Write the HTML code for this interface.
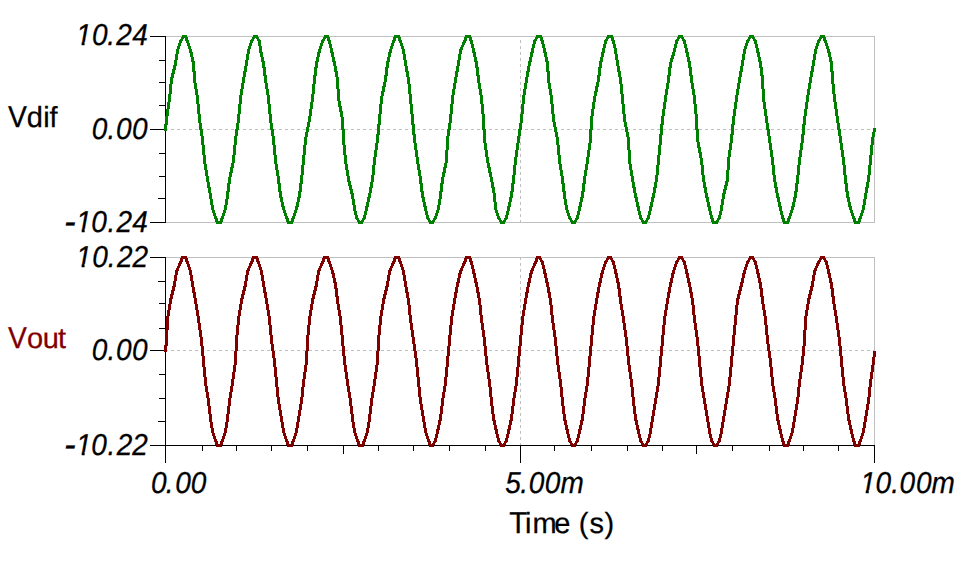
<!DOCTYPE html>
<html><head><meta charset="utf-8"><style>
html,body{margin:0;padding:0;background:#fff;width:961px;height:563px;overflow:hidden}
svg{display:block}
text{font-family:"Liberation Sans",sans-serif;text-rendering:geometricPrecision}
</style></head><body>
<svg width="961" height="563" viewBox="0 0 961 563">
<defs>
<clipPath id="nf0" clipPathUnits="userSpaceOnUse"><rect x="0" y="-100" width="961" height="97.23"/><rect x="0" y="1" width="961" height="50"/><rect x="0" y="-2.77" width="75.00" height="3.77"/><rect x="81.58" y="-2.77" width="2.98" height="3.77"/><rect x="90.00" y="-2.77" width="871.00" height="3.77"/></clipPath>
<clipPath id="nf2" clipPathUnits="userSpaceOnUse"><rect x="0" y="-100" width="961" height="97.23"/><rect x="0" y="1" width="961" height="50"/><rect x="0" y="-2.77" width="75.10" height="3.77"/><rect x="81.68" y="-2.77" width="2.98" height="3.77"/><rect x="90.10" y="-2.77" width="870.90" height="3.77"/></clipPath>
<clipPath id="nf3" clipPathUnits="userSpaceOnUse"><rect x="0" y="-100" width="961" height="97.23"/><rect x="0" y="1" width="961" height="50"/><rect x="0" y="-2.77" width="75.00" height="3.77"/><rect x="81.58" y="-2.77" width="2.98" height="3.77"/><rect x="90.00" y="-2.77" width="871.00" height="3.77"/></clipPath>
<clipPath id="nf5" clipPathUnits="userSpaceOnUse"><rect x="0" y="-100" width="961" height="97.23"/><rect x="0" y="1" width="961" height="50"/><rect x="0" y="-2.77" width="75.10" height="3.77"/><rect x="81.68" y="-2.77" width="2.98" height="3.77"/><rect x="90.10" y="-2.77" width="870.90" height="3.77"/></clipPath>
<clipPath id="nf10" clipPathUnits="userSpaceOnUse"><rect x="0" y="-100" width="961" height="97.23"/><rect x="0" y="1" width="961" height="50"/><rect x="0" y="-2.77" width="859.15" height="3.77"/><rect x="865.73" y="-2.77" width="2.98" height="3.77"/><rect x="874.15" y="-2.77" width="86.85" height="3.77"/></clipPath>
</defs>
<rect width="961" height="563" fill="#fff"/>
<g shape-rendering="crispEdges" stroke-width="1">
<line x1="165" y1="36.5" x2="875" y2="36.5" stroke="#c0c0c0" />
<line x1="874.5" y1="36" x2="874.5" y2="223" stroke="#c0c0c0" />
<line x1="165" y1="222.5" x2="875" y2="222.5" stroke="#c0c0c0" />
<line x1="165" y1="129.5" x2="874" y2="129.5" stroke="#c0c0c0" stroke-dasharray="3 3"/>
<line x1="520.5" y1="40" x2="520.5" y2="222" stroke="#c0c0c0" stroke-dasharray="3 3"/>
<line x1="165" y1="257.5" x2="875" y2="257.5" stroke="#c0c0c0" />
<line x1="874.5" y1="257" x2="874.5" y2="446" stroke="#c0c0c0" />
<line x1="165" y1="350.5" x2="874" y2="350.5" stroke="#c0c0c0" stroke-dasharray="3 3"/>
<line x1="520.5" y1="257" x2="520.5" y2="445" stroke="#c0c0c0" stroke-dasharray="3 3"/>
<line x1="165.5" y1="36" x2="165.5" y2="223" stroke="#000" />
<line x1="165.5" y1="257" x2="165.5" y2="463" stroke="#000" />
<line x1="150" y1="445.5" x2="875" y2="445.5" stroke="#000" />
<line x1="150" y1="36.5" x2="166" y2="36.5" stroke="#000" />
<line x1="150" y1="129.5" x2="166" y2="129.5" stroke="#000" />
<line x1="150" y1="222.5" x2="166" y2="222.5" stroke="#000" />
<line x1="159" y1="60.5" x2="166" y2="60.5" stroke="#000" />
<line x1="159" y1="82.5" x2="166" y2="82.5" stroke="#000" />
<line x1="159" y1="105.5" x2="166" y2="105.5" stroke="#000" />
<line x1="159" y1="153.5" x2="166" y2="153.5" stroke="#000" />
<line x1="159" y1="176.5" x2="166" y2="176.5" stroke="#000" />
<line x1="158" y1="198.5" x2="166" y2="198.5" stroke="#000" />
<line x1="150" y1="257.5" x2="166" y2="257.5" stroke="#000" />
<line x1="150" y1="350.5" x2="166" y2="350.5" stroke="#000" />
<line x1="158" y1="281.5" x2="166" y2="281.5" stroke="#000" />
<line x1="159" y1="303.5" x2="166" y2="303.5" stroke="#000" />
<line x1="159" y1="328.5" x2="166" y2="328.5" stroke="#000" />
<line x1="159" y1="374.5" x2="166" y2="374.5" stroke="#000" />
<line x1="159" y1="398.5" x2="166" y2="398.5" stroke="#000" />
<line x1="158" y1="421.5" x2="166" y2="421.5" stroke="#000" />
<line x1="165.5" y1="445" x2="165.5" y2="463" stroke="#000" />
<line x1="202.5" y1="445" x2="202.5" y2="451" stroke="#000" />
<line x1="236.5" y1="445" x2="236.5" y2="451" stroke="#000" />
<line x1="271.5" y1="445" x2="271.5" y2="451" stroke="#000" />
<line x1="307.5" y1="445" x2="307.5" y2="451" stroke="#000" />
<line x1="343.5" y1="445" x2="343.5" y2="454" stroke="#000" />
<line x1="378.5" y1="445" x2="378.5" y2="451" stroke="#000" />
<line x1="413.5" y1="445" x2="413.5" y2="451" stroke="#000" />
<line x1="449.5" y1="445" x2="449.5" y2="451" stroke="#000" />
<line x1="485.5" y1="445" x2="485.5" y2="451" stroke="#000" />
<line x1="520.5" y1="445" x2="520.5" y2="463" stroke="#000" />
<line x1="554.5" y1="445" x2="554.5" y2="451" stroke="#000" />
<line x1="591.5" y1="445" x2="591.5" y2="451" stroke="#000" />
<line x1="627.5" y1="445" x2="627.5" y2="451" stroke="#000" />
<line x1="662.5" y1="445" x2="662.5" y2="451" stroke="#000" />
<line x1="696.5" y1="445" x2="696.5" y2="454" stroke="#000" />
<line x1="732.5" y1="445" x2="732.5" y2="451" stroke="#000" />
<line x1="769.5" y1="445" x2="769.5" y2="451" stroke="#000" />
<line x1="803.5" y1="445" x2="803.5" y2="451" stroke="#000" />
<line x1="838.5" y1="445" x2="838.5" y2="451" stroke="#000" />
<line x1="874.5" y1="445" x2="874.5" y2="463" stroke="#000" />
</g>
<path d="M164 124h1v7h-1zM165 116h1v15h-1zM166 109h1v22h-1zM167 102h1v23h-1zM168 94h1v22h-1zM169 84h1v25h-1zM170 77h1v25h-1zM171 73h1v21h-1zM172 69h1v15h-1zM173 65h1v13h-1zM174 60h1v14h-1zM175 54h1v16h-1zM176 49h1v17h-1zM177 46h1v14h-1zM178 43h1v11h-1zM179 40h1v9h-1zM180 39h1v7h-1zM181 37h1v6h-1zM182 35h1v6h-1zM183 35h1v4h-1zM184 35h1v3h-1zM185 35h1v6h-1zM186 35h1v8h-1zM187 37h1v9h-1zM188 40h1v9h-1zM189 43h1v10h-1zM190 46h1v11h-1zM191 49h1v13h-1zM192 52h1v20h-1zM193 57h1v26h-1zM194 61h1v28h-1zM195 71h1v24h-1zM196 83h1v21h-1zM197 89h1v25h-1zM198 95h1v28h-1zM199 104h1v26h-1zM200 114h1v22h-1zM201 123h1v22h-1zM202 129h1v26h-1zM203 136h1v28h-1zM204 145h1v25h-1zM205 155h1v21h-1zM206 164h1v18h-1zM207 170h1v18h-1zM208 176h1v17h-1zM209 182h1v17h-1zM210 187h1v18h-1zM211 193h1v17h-1zM212 199h1v14h-1zM213 205h1v11h-1zM214 210h1v9h-1zM215 213h1v9h-1zM216 216h1v8h-1zM217 218h1v6h-1zM218 221h1v3h-1zM219 221h1v3h-1zM220 218h1v6h-1zM221 216h1v8h-1zM222 213h1v9h-1zM223 210h1v9h-1zM224 205h1v11h-1zM225 199h1v14h-1zM226 191h1v19h-1zM227 183h1v22h-1zM228 177h1v22h-1zM229 172h1v20h-1zM230 167h1v17h-1zM231 163h1v14h-1zM232 155h1v18h-1zM233 145h1v23h-1zM234 136h1v27h-1zM235 129h1v26h-1zM236 123h1v22h-1zM237 114h1v22h-1zM238 104h1v26h-1zM239 95h1v28h-1zM240 89h1v25h-1zM241 83h1v21h-1zM242 77h1v18h-1zM243 71h1v18h-1zM244 66h1v17h-1zM245 60h1v17h-1zM246 54h1v18h-1zM247 49h1v17h-1zM248 46h1v14h-1zM249 43h1v11h-1zM250 40h1v9h-1zM251 39h1v7h-1zM252 37h1v6h-1zM253 35h1v6h-1zM254 35h1v4h-1zM255 35h1v3h-1zM256 35h1v4h-1zM257 35h1v6h-1zM258 37h1v9h-1zM259 39h1v14h-1zM260 40h1v17h-1zM261 46h1v16h-1zM262 52h1v16h-1zM263 57h1v19h-1zM264 61h1v22h-1zM265 67h1v22h-1zM266 75h1v20h-1zM267 83h1v21h-1zM268 89h1v25h-1zM269 95h1v28h-1zM270 104h1v26h-1zM271 114h1v22h-1zM272 123h1v22h-1zM273 129h1v26h-1zM274 136h1v28h-1zM275 145h1v25h-1zM276 155h1v21h-1zM277 164h1v20h-1zM278 170h1v22h-1zM279 176h1v22h-1zM280 183h1v19h-1zM281 191h1v16h-1zM282 197h1v13h-1zM283 202h1v11h-1zM284 206h1v10h-1zM285 210h1v9h-1zM286 213h1v9h-1zM287 216h1v8h-1zM288 218h1v6h-1zM289 221h1v3h-1zM290 221h1v3h-1zM291 218h1v6h-1zM292 216h1v8h-1zM293 213h1v9h-1zM294 210h1v9h-1zM295 206h1v10h-1zM296 202h1v11h-1zM297 197h1v13h-1zM298 191h1v16h-1zM299 183h1v19h-1zM300 175h1v23h-1zM301 165h1v27h-1zM302 155h1v29h-1zM303 145h1v30h-1zM304 137h1v28h-1zM305 132h1v23h-1zM306 127h1v18h-1zM307 122h1v15h-1zM308 116h1v16h-1zM309 109h1v18h-1zM310 102h1v20h-1zM311 94h1v22h-1zM312 84h1v25h-1zM313 75h1v27h-1zM314 67h1v27h-1zM315 61h1v23h-1zM316 57h1v19h-1zM317 52h1v16h-1zM318 49h1v13h-1zM319 46h1v11h-1zM320 43h1v10h-1zM321 40h1v9h-1zM322 39h1v7h-1zM323 37h1v6h-1zM324 35h1v6h-1zM325 35h1v4h-1zM326 35h1v3h-1zM327 35h1v6h-1zM328 35h1v9h-1zM329 37h1v11h-1zM330 40h1v13h-1zM331 44h1v13h-1zM332 48h1v14h-1zM333 52h1v14h-1zM334 57h1v15h-1zM335 61h1v16h-1zM336 66h1v23h-1zM337 71h1v30h-1zM338 77h1v30h-1zM339 89h1v23h-1zM340 101h1v16h-1zM341 106h1v24h-1zM342 111h1v34h-1zM343 117h1v38h-1zM344 129h1v35h-1zM345 145h1v25h-1zM346 155h1v21h-1zM347 164h1v18h-1zM348 170h1v16h-1zM349 176h1v14h-1zM350 181h1v13h-1zM351 185h1v14h-1zM352 189h1v16h-1zM353 193h1v18h-1zM354 199h1v16h-1zM355 205h1v14h-1zM356 211h1v9h-1zM357 215h1v7h-1zM358 218h1v6h-1zM359 220h1v4h-1zM360 221h1v3h-1zM361 220h1v4h-1zM362 218h1v6h-1zM363 215h1v7h-1zM364 211h1v9h-1zM365 206h1v13h-1zM366 202h1v13h-1zM367 197h1v14h-1zM368 193h1v14h-1zM369 187h1v15h-1zM370 182h1v16h-1zM371 175h1v18h-1zM372 165h1v23h-1zM373 157h1v25h-1zM374 150h1v25h-1zM375 143h1v22h-1zM376 134h1v23h-1zM377 124h1v26h-1zM378 114h1v29h-1zM379 104h1v31h-1zM380 96h1v29h-1zM381 91h1v23h-1zM382 86h1v18h-1zM383 82h1v14h-1zM384 75h1v17h-1zM385 67h1v20h-1zM386 61h1v21h-1zM387 57h1v19h-1zM388 52h1v16h-1zM389 49h1v13h-1zM390 46h1v11h-1zM391 43h1v10h-1zM392 40h1v9h-1zM393 37h1v9h-1zM394 35h1v8h-1zM395 35h1v6h-1zM396 35h1v3h-1zM397 35h1v3h-1zM398 35h1v6h-1zM399 35h1v8h-1zM400 37h1v9h-1zM401 40h1v9h-1zM402 43h1v11h-1zM403 46h1v14h-1zM404 49h1v17h-1zM405 54h1v18h-1zM406 60h1v17h-1zM407 66h1v18h-1zM408 71h1v23h-1zM409 77h1v27h-1zM410 84h1v30h-1zM411 94h1v31h-1zM412 104h1v31h-1zM413 114h1v29h-1zM414 124h1v26h-1zM415 134h1v23h-1zM416 143h1v21h-1zM417 150h1v20h-1zM418 157h1v19h-1zM419 164h1v20h-1zM420 170h1v22h-1zM421 176h1v22h-1zM422 183h1v19h-1zM423 191h1v16h-1zM424 197h1v14h-1zM425 202h1v13h-1zM426 206h1v13h-1zM427 211h1v9h-1zM428 215h1v7h-1zM429 218h1v6h-1zM430 220h1v4h-1zM431 221h1v3h-1zM432 220h1v4h-1zM433 218h1v6h-1zM434 216h1v6h-1zM435 213h1v7h-1zM436 210h1v9h-1zM437 205h1v11h-1zM438 199h1v14h-1zM439 191h1v19h-1zM440 183h1v22h-1zM441 177h1v22h-1zM442 172h1v20h-1zM443 167h1v17h-1zM444 163h1v14h-1zM445 150h1v23h-1zM446 136h1v32h-1zM447 129h1v34h-1zM448 123h1v27h-1zM449 114h1v22h-1zM450 104h1v26h-1zM451 95h1v28h-1zM452 89h1v25h-1zM453 83h1v21h-1zM454 77h1v18h-1zM455 71h1v18h-1zM456 66h1v17h-1zM457 60h1v17h-1zM458 54h1v18h-1zM459 49h1v17h-1zM460 47h1v13h-1zM461 45h1v9h-1zM462 42h1v8h-1zM463 40h1v7h-1zM464 37h1v8h-1zM465 35h1v8h-1zM466 35h1v6h-1zM467 35h1v3h-1zM468 35h1v3h-1zM469 35h1v6h-1zM470 35h1v9h-1zM471 37h1v11h-1zM472 40h1v13h-1zM473 44h1v13h-1zM474 48h1v14h-1zM475 52h1v16h-1zM476 57h1v19h-1zM477 61h1v22h-1zM478 67h1v22h-1zM479 75h1v20h-1zM480 83h1v21h-1zM481 89h1v25h-1zM482 95h1v35h-1zM483 104h1v39h-1zM484 114h1v36h-1zM485 129h1v28h-1zM486 143h1v20h-1zM487 150h1v18h-1zM488 157h1v16h-1zM489 163h1v14h-1zM490 167h1v15h-1zM491 172h1v16h-1zM492 177h1v16h-1zM493 182h1v20h-1zM494 187h1v23h-1zM495 193h1v20h-1zM496 202h1v14h-1zM497 210h1v9h-1zM498 213h1v7h-1zM499 216h1v6h-1zM500 218h1v6h-1zM501 220h1v4h-1zM502 221h1v3h-1zM503 220h1v4h-1zM504 218h1v6h-1zM505 215h1v7h-1zM506 211h1v9h-1zM507 206h1v13h-1zM508 202h1v13h-1zM509 197h1v14h-1zM510 191h1v16h-1zM511 183h1v19h-1zM512 175h1v23h-1zM513 165h1v27h-1zM514 157h1v27h-1zM515 150h1v25h-1zM516 143h1v22h-1zM517 136h1v21h-1zM518 129h1v21h-1zM519 123h1v20h-1zM520 114h1v22h-1zM521 104h1v26h-1zM522 95h1v28h-1zM523 89h1v25h-1zM524 83h1v21h-1zM525 77h1v18h-1zM526 71h1v18h-1zM527 66h1v17h-1zM528 61h1v16h-1zM529 57h1v15h-1zM530 52h1v14h-1zM531 48h1v14h-1zM532 44h1v13h-1zM533 40h1v13h-1zM534 39h1v9h-1zM535 37h1v7h-1zM536 35h1v6h-1zM537 35h1v4h-1zM538 35h1v3h-1zM539 35h1v3h-1zM540 35h1v6h-1zM541 35h1v9h-1zM542 37h1v11h-1zM543 40h1v13h-1zM544 44h1v13h-1zM545 48h1v14h-1zM546 52h1v20h-1zM547 57h1v26h-1zM548 61h1v28h-1zM549 71h1v24h-1zM550 83h1v21h-1zM551 89h1v25h-1zM552 95h1v27h-1zM553 104h1v23h-1zM554 114h1v18h-1zM555 122h1v15h-1zM556 127h1v18h-1zM557 132h1v23h-1zM558 137h1v27h-1zM559 145h1v25h-1zM560 155h1v21h-1zM561 164h1v20h-1zM562 170h1v22h-1zM563 176h1v23h-1zM564 183h1v22h-1zM565 191h1v19h-1zM566 199h1v14h-1zM567 205h1v11h-1zM568 210h1v9h-1zM569 213h1v7h-1zM570 216h1v6h-1zM571 218h1v6h-1zM572 220h1v4h-1zM573 221h1v3h-1zM574 220h1v4h-1zM575 218h1v6h-1zM576 215h1v7h-1zM577 211h1v9h-1zM578 206h1v13h-1zM579 202h1v13h-1zM580 197h1v14h-1zM581 191h1v16h-1zM582 183h1v19h-1zM583 176h1v22h-1zM584 170h1v22h-1zM585 164h1v20h-1zM586 157h1v19h-1zM587 150h1v20h-1zM588 143h1v21h-1zM589 129h1v28h-1zM590 116h1v34h-1zM591 109h1v34h-1zM592 102h1v28h-1zM593 96h1v20h-1zM594 91h1v18h-1zM595 86h1v16h-1zM596 82h1v14h-1zM597 75h1v17h-1zM598 67h1v20h-1zM599 61h1v21h-1zM600 57h1v19h-1zM601 52h1v16h-1zM602 48h1v14h-1zM603 44h1v13h-1zM604 40h1v13h-1zM605 39h1v9h-1zM606 37h1v7h-1zM607 35h1v6h-1zM608 35h1v4h-1zM609 35h1v3h-1zM610 35h1v3h-1zM611 35h1v6h-1zM612 35h1v9h-1zM613 37h1v11h-1zM614 40h1v14h-1zM615 44h1v16h-1zM616 48h1v18h-1zM617 54h1v18h-1zM618 60h1v17h-1zM619 66h1v18h-1zM620 71h1v23h-1zM621 77h1v27h-1zM622 84h1v30h-1zM623 94h1v28h-1zM624 104h1v23h-1zM625 114h1v18h-1zM626 122h1v15h-1zM627 127h1v23h-1zM628 132h1v32h-1zM629 137h1v33h-1zM630 150h1v26h-1zM631 164h1v18h-1zM632 170h1v18h-1zM633 176h1v17h-1zM634 182h1v16h-1zM635 187h1v15h-1zM636 193h1v14h-1zM637 197h1v14h-1zM638 202h1v13h-1zM639 206h1v13h-1zM640 211h1v9h-1zM641 215h1v7h-1zM642 218h1v6h-1zM643 220h1v4h-1zM644 221h1v3h-1zM645 220h1v4h-1zM646 218h1v6h-1zM647 215h1v7h-1zM648 211h1v9h-1zM649 206h1v13h-1zM650 202h1v13h-1zM651 197h1v14h-1zM652 193h1v14h-1zM653 187h1v15h-1zM654 182h1v16h-1zM655 175h1v18h-1zM656 165h1v23h-1zM657 155h1v27h-1zM658 145h1v30h-1zM659 134h1v31h-1zM660 124h1v31h-1zM661 116h1v29h-1zM662 109h1v26h-1zM663 102h1v23h-1zM664 95h1v21h-1zM665 89h1v20h-1zM666 83h1v19h-1zM667 75h1v20h-1zM668 67h1v22h-1zM669 62h1v21h-1zM670 58h1v18h-1zM671 55h1v13h-1zM672 52h1v10h-1zM673 48h1v11h-1zM674 44h1v12h-1zM675 40h1v12h-1zM676 39h1v9h-1zM677 37h1v7h-1zM678 35h1v6h-1zM679 35h1v4h-1zM680 35h1v3h-1zM681 35h1v4h-1zM682 35h1v6h-1zM683 37h1v7h-1zM684 39h1v9h-1zM685 40h1v13h-1zM686 44h1v13h-1zM687 48h1v14h-1zM688 52h1v16h-1zM689 57h1v19h-1zM690 61h1v22h-1zM691 67h1v22h-1zM692 75h1v20h-1zM693 83h1v21h-1zM694 89h1v25h-1zM695 95h1v35h-1zM696 104h1v38h-1zM697 114h1v34h-1zM698 129h1v24h-1zM699 142h1v16h-1zM700 147h1v18h-1zM701 152h1v23h-1zM702 158h1v24h-1zM703 165h1v23h-1zM704 175h1v18h-1zM705 182h1v16h-1zM706 187h1v15h-1zM707 193h1v14h-1zM708 197h1v14h-1zM709 202h1v13h-1zM710 206h1v13h-1zM711 211h1v11h-1zM712 215h1v9h-1zM713 218h1v6h-1zM714 221h1v3h-1zM715 221h1v3h-1zM716 220h1v4h-1zM717 218h1v6h-1zM718 215h1v7h-1zM719 211h1v9h-1zM720 205h1v14h-1zM721 199h1v16h-1zM722 193h1v18h-1zM723 189h1v16h-1zM724 185h1v14h-1zM725 181h1v13h-1zM726 170h1v20h-1zM727 157h1v29h-1zM728 150h1v32h-1zM729 143h1v27h-1zM730 134h1v23h-1zM731 124h1v26h-1zM732 116h1v27h-1zM733 109h1v26h-1zM734 102h1v23h-1zM735 95h1v21h-1zM736 89h1v20h-1zM737 83h1v19h-1zM738 77h1v18h-1zM739 71h1v18h-1zM740 66h1v17h-1zM741 60h1v17h-1zM742 54h1v18h-1zM743 49h1v17h-1zM744 46h1v14h-1zM745 43h1v11h-1zM746 40h1v9h-1zM747 39h1v7h-1zM748 37h1v6h-1zM749 35h1v6h-1zM750 35h1v4h-1zM751 35h1v3h-1zM752 35h1v4h-1zM753 35h1v6h-1zM754 37h1v7h-1zM755 39h1v9h-1zM756 40h1v13h-1zM757 44h1v13h-1zM758 48h1v14h-1zM759 52h1v16h-1zM760 57h1v19h-1zM761 61h1v28h-1zM762 67h1v35h-1zM763 75h1v34h-1zM764 89h1v27h-1zM765 102h1v21h-1zM766 109h1v21h-1zM767 116h1v20h-1zM768 123h1v20h-1zM769 129h1v21h-1zM770 136h1v21h-1zM771 143h1v22h-1zM772 150h1v25h-1zM773 157h1v25h-1zM774 165h1v23h-1zM775 175h1v18h-1zM776 182h1v16h-1zM777 187h1v15h-1zM778 193h1v14h-1zM779 197h1v14h-1zM780 202h1v13h-1zM781 206h1v13h-1zM782 211h1v11h-1zM783 215h1v9h-1zM784 218h1v6h-1zM785 221h1v3h-1zM786 221h1v3h-1zM787 218h1v6h-1zM788 216h1v8h-1zM789 213h1v9h-1zM790 210h1v9h-1zM791 206h1v10h-1zM792 202h1v11h-1zM793 197h1v13h-1zM794 191h1v16h-1zM795 183h1v19h-1zM796 175h1v23h-1zM797 165h1v27h-1zM798 157h1v27h-1zM799 150h1v25h-1zM800 143h1v22h-1zM801 134h1v23h-1zM802 124h1v26h-1zM803 116h1v27h-1zM804 109h1v26h-1zM805 102h1v23h-1zM806 95h1v21h-1zM807 89h1v20h-1zM808 83h1v19h-1zM809 77h1v18h-1zM810 71h1v18h-1zM811 66h1v17h-1zM812 60h1v17h-1zM813 54h1v18h-1zM814 49h1v17h-1zM815 46h1v14h-1zM816 43h1v11h-1zM817 40h1v9h-1zM818 39h1v7h-1zM819 37h1v6h-1zM820 35h1v6h-1zM821 35h1v4h-1zM822 35h1v3h-1zM823 35h1v6h-1zM824 35h1v8h-1zM825 37h1v9h-1zM826 40h1v9h-1zM827 43h1v10h-1zM828 46h1v11h-1zM829 49h1v13h-1zM830 52h1v20h-1zM831 57h1v27h-1zM832 61h1v33h-1zM833 71h1v31h-1zM834 84h1v25h-1zM835 94h1v22h-1zM836 102h1v21h-1zM837 109h1v21h-1zM838 116h1v20h-1zM839 123h1v20h-1zM840 129h1v21h-1zM841 136h1v21h-1zM842 143h1v22h-1zM843 150h1v25h-1zM844 157h1v27h-1zM845 165h1v27h-1zM846 175h1v23h-1zM847 183h1v19h-1zM848 191h1v16h-1zM849 197h1v13h-1zM850 202h1v11h-1zM851 206h1v10h-1zM852 210h1v9h-1zM853 213h1v9h-1zM854 216h1v8h-1zM855 218h1v6h-1zM856 221h1v3h-1zM857 221h1v3h-1zM858 218h1v6h-1zM859 216h1v8h-1zM860 213h1v9h-1zM861 210h1v9h-1zM862 205h1v11h-1zM863 199h1v14h-1zM864 193h1v17h-1zM865 187h1v18h-1zM866 182h1v17h-1zM867 175h1v18h-1zM868 165h1v23h-1zM869 155h1v27h-1zM870 145h1v30h-1zM871 137h1v28h-1zM872 132h1v23h-1zM873 128h1v17h-1zM874 128h1v9h-1zM875 128h1v4h-1z" fill="#008000" shape-rendering="crispEdges"/>
<path d="M164 345h1v7h-1zM165 330h1v22h-1zM166 316h1v36h-1zM167 310h1v36h-1zM168 304h1v26h-1zM169 298h1v18h-1zM170 294h1v16h-1zM171 290h1v14h-1zM172 286h1v13h-1zM173 281h1v14h-1zM174 275h1v16h-1zM175 270h1v17h-1zM176 268h1v13h-1zM177 266h1v9h-1zM178 263h1v8h-1zM179 261h1v7h-1zM180 258h1v8h-1zM181 256h1v8h-1zM182 256h1v6h-1zM183 256h1v3h-1zM184 256h1v3h-1zM185 256h1v6h-1zM186 256h1v8h-1zM187 258h1v9h-1zM188 261h1v9h-1zM189 264h1v11h-1zM190 267h1v14h-1zM191 270h1v17h-1zM192 275h1v18h-1zM193 281h1v17h-1zM194 287h1v17h-1zM195 292h1v18h-1zM196 298h1v18h-1zM197 304h1v19h-1zM198 310h1v20h-1zM199 316h1v21h-1zM200 323h1v23h-1zM201 330h1v26h-1zM202 337h1v30h-1zM203 346h1v31h-1zM204 356h1v30h-1zM205 367h1v25h-1zM206 377h1v21h-1zM207 386h1v20h-1zM208 392h1v22h-1zM209 398h1v24h-1zM210 406h1v22h-1zM211 414h1v19h-1zM212 422h1v14h-1zM213 428h1v11h-1zM214 433h1v9h-1zM215 436h1v9h-1zM216 439h1v8h-1zM217 441h1v6h-1zM218 444h1v3h-1zM219 444h1v3h-1zM220 441h1v6h-1zM221 439h1v8h-1zM222 436h1v9h-1zM223 433h1v9h-1zM224 428h1v11h-1zM225 422h1v14h-1zM226 414h1v19h-1zM227 406h1v22h-1zM228 398h1v24h-1zM229 392h1v22h-1zM230 386h1v20h-1zM231 379h1v19h-1zM232 372h1v20h-1zM233 365h1v21h-1zM234 351h1v28h-1zM235 335h1v37h-1zM236 325h1v40h-1zM237 316h1v35h-1zM238 310h1v25h-1zM239 304h1v21h-1zM240 298h1v18h-1zM241 294h1v16h-1zM242 290h1v14h-1zM243 286h1v13h-1zM244 281h1v14h-1zM245 275h1v16h-1zM246 270h1v17h-1zM247 268h1v13h-1zM248 266h1v9h-1zM249 263h1v8h-1zM250 261h1v7h-1zM251 258h1v8h-1zM252 256h1v8h-1zM253 256h1v6h-1zM254 256h1v3h-1zM255 256h1v3h-1zM256 256h1v6h-1zM257 256h1v8h-1zM258 258h1v9h-1zM259 261h1v9h-1zM260 264h1v11h-1zM261 267h1v14h-1zM262 270h1v17h-1zM263 275h1v18h-1zM264 281h1v17h-1zM265 287h1v17h-1zM266 292h1v18h-1zM267 298h1v18h-1zM268 304h1v21h-1zM269 310h1v25h-1zM270 316h1v28h-1zM271 325h1v26h-1zM272 335h1v23h-1zM273 344h1v23h-1zM274 351h1v26h-1zM275 358h1v29h-1zM276 367h1v30h-1zM277 377h1v27h-1zM278 387h1v23h-1zM279 397h1v19h-1zM280 404h1v18h-1zM281 410h1v18h-1zM282 416h1v17h-1zM283 422h1v14h-1zM284 428h1v11h-1zM285 433h1v9h-1zM286 436h1v9h-1zM287 439h1v8h-1zM288 441h1v6h-1zM289 444h1v3h-1zM290 444h1v3h-1zM291 441h1v6h-1zM292 439h1v8h-1zM293 436h1v9h-1zM294 433h1v9h-1zM295 428h1v11h-1zM296 422h1v14h-1zM297 416h1v17h-1zM298 410h1v18h-1zM299 404h1v18h-1zM300 397h1v19h-1zM301 387h1v23h-1zM302 379h1v25h-1zM303 372h1v25h-1zM304 365h1v22h-1zM305 351h1v28h-1zM306 335h1v37h-1zM307 325h1v40h-1zM308 316h1v35h-1zM309 310h1v25h-1zM310 304h1v21h-1zM311 298h1v18h-1zM312 294h1v16h-1zM313 290h1v14h-1zM314 286h1v13h-1zM315 281h1v14h-1zM316 275h1v16h-1zM317 270h1v17h-1zM318 268h1v13h-1zM319 266h1v9h-1zM320 263h1v8h-1zM321 261h1v7h-1zM322 258h1v8h-1zM323 256h1v8h-1zM324 256h1v6h-1zM325 256h1v3h-1zM326 256h1v3h-1zM327 256h1v6h-1zM328 256h1v8h-1zM329 258h1v9h-1zM330 261h1v9h-1zM331 264h1v10h-1zM332 267h1v11h-1zM333 270h1v13h-1zM334 273h1v16h-1zM335 278h1v19h-1zM336 282h1v22h-1zM337 288h1v22h-1zM338 296h1v20h-1zM339 304h1v21h-1zM340 310h1v25h-1zM341 316h1v30h-1zM342 325h1v31h-1zM343 335h1v30h-1zM344 346h1v26h-1zM345 356h1v23h-1zM346 365h1v21h-1zM347 372h1v20h-1zM348 379h1v19h-1zM349 386h1v20h-1zM350 392h1v22h-1zM351 398h1v24h-1zM352 406h1v22h-1zM353 414h1v19h-1zM354 422h1v14h-1zM355 428h1v11h-1zM356 433h1v9h-1zM357 436h1v9h-1zM358 439h1v8h-1zM359 441h1v6h-1zM360 444h1v3h-1zM361 444h1v3h-1zM362 441h1v6h-1zM363 439h1v8h-1zM364 436h1v9h-1zM365 433h1v9h-1zM366 428h1v11h-1zM367 422h1v14h-1zM368 414h1v19h-1zM369 406h1v22h-1zM370 398h1v24h-1zM371 392h1v22h-1zM372 386h1v20h-1zM373 379h1v19h-1zM374 372h1v20h-1zM375 365h1v21h-1zM376 351h1v28h-1zM377 335h1v37h-1zM378 325h1v40h-1zM379 316h1v35h-1zM380 310h1v25h-1zM381 304h1v21h-1zM382 298h1v18h-1zM383 294h1v16h-1zM384 290h1v14h-1zM385 286h1v13h-1zM386 281h1v14h-1zM387 275h1v16h-1zM388 270h1v17h-1zM389 268h1v13h-1zM390 266h1v9h-1zM391 263h1v8h-1zM392 261h1v7h-1zM393 258h1v8h-1zM394 256h1v8h-1zM395 256h1v6h-1zM396 256h1v3h-1zM397 256h1v3h-1zM398 256h1v6h-1zM399 256h1v8h-1zM400 258h1v9h-1zM401 261h1v9h-1zM402 264h1v11h-1zM403 267h1v14h-1zM404 270h1v17h-1zM405 275h1v18h-1zM406 281h1v17h-1zM407 287h1v18h-1zM408 292h1v23h-1zM409 298h1v25h-1zM410 305h1v25h-1zM411 315h1v22h-1zM412 323h1v21h-1zM413 330h1v21h-1zM414 337h1v21h-1zM415 344h1v23h-1zM416 351h1v26h-1zM417 358h1v29h-1zM418 367h1v30h-1zM419 377h1v27h-1zM420 387h1v23h-1zM421 397h1v19h-1zM422 404h1v18h-1zM423 410h1v18h-1zM424 416h1v17h-1zM425 422h1v14h-1zM426 428h1v11h-1zM427 433h1v9h-1zM428 436h1v9h-1zM429 439h1v8h-1zM430 441h1v6h-1zM431 444h1v3h-1zM432 443h1v4h-1zM433 441h1v6h-1zM434 438h1v7h-1zM435 434h1v9h-1zM436 429h1v13h-1zM437 425h1v13h-1zM438 420h1v14h-1zM439 414h1v16h-1zM440 406h1v19h-1zM441 398h1v23h-1zM442 392h1v22h-1zM443 386h1v20h-1zM444 377h1v21h-1zM445 367h1v25h-1zM446 356h1v30h-1zM447 346h1v31h-1zM448 335h1v32h-1zM449 325h1v31h-1zM450 316h1v30h-1zM451 310h1v25h-1zM452 304h1v21h-1zM453 298h1v18h-1zM454 292h1v18h-1zM455 287h1v17h-1zM456 282h1v16h-1zM457 278h1v15h-1zM458 273h1v14h-1zM459 270h1v13h-1zM460 268h1v10h-1zM461 266h1v8h-1zM462 263h1v8h-1zM463 261h1v7h-1zM464 258h1v8h-1zM465 256h1v8h-1zM466 256h1v6h-1zM467 256h1v3h-1zM468 256h1v3h-1zM469 256h1v6h-1zM470 256h1v9h-1zM471 258h1v11h-1zM472 261h1v13h-1zM473 265h1v13h-1zM474 269h1v14h-1zM475 273h1v14h-1zM476 278h1v15h-1zM477 282h1v16h-1zM478 287h1v18h-1zM479 292h1v23h-1zM480 298h1v25h-1zM481 305h1v25h-1zM482 315h1v22h-1zM483 323h1v23h-1zM484 330h1v26h-1zM485 337h1v28h-1zM486 346h1v26h-1zM487 356h1v23h-1zM488 365h1v22h-1zM489 372h1v25h-1zM490 379h1v27h-1zM491 387h1v27h-1zM492 397h1v24h-1zM493 406h1v19h-1zM494 414h1v16h-1zM495 420h1v14h-1zM496 425h1v13h-1zM497 429h1v13h-1zM498 434h1v9h-1zM499 438h1v7h-1zM500 441h1v6h-1zM501 443h1v4h-1zM502 444h1v3h-1zM503 443h1v4h-1zM504 441h1v6h-1zM505 438h1v7h-1zM506 434h1v9h-1zM507 429h1v13h-1zM508 425h1v13h-1zM509 420h1v14h-1zM510 414h1v16h-1zM511 406h1v19h-1zM512 398h1v23h-1zM513 392h1v22h-1zM514 386h1v20h-1zM515 377h1v21h-1zM516 367h1v25h-1zM517 356h1v30h-1zM518 346h1v31h-1zM519 335h1v32h-1zM520 325h1v31h-1zM521 316h1v30h-1zM522 310h1v25h-1zM523 304h1v21h-1zM524 298h1v18h-1zM525 292h1v18h-1zM526 287h1v17h-1zM527 282h1v16h-1zM528 278h1v15h-1zM529 273h1v14h-1zM530 270h1v13h-1zM531 268h1v10h-1zM532 266h1v8h-1zM533 263h1v8h-1zM534 261h1v7h-1zM535 258h1v8h-1zM536 256h1v8h-1zM537 256h1v6h-1zM538 256h1v3h-1zM539 256h1v4h-1zM540 256h1v6h-1zM541 258h1v7h-1zM542 260h1v9h-1zM543 261h1v13h-1zM544 265h1v13h-1zM545 269h1v14h-1zM546 273h1v14h-1zM547 278h1v15h-1zM548 282h1v16h-1zM549 287h1v18h-1zM550 292h1v23h-1zM551 298h1v25h-1zM552 305h1v25h-1zM553 315h1v22h-1zM554 323h1v23h-1zM555 330h1v26h-1zM556 337h1v28h-1zM557 346h1v26h-1zM558 356h1v23h-1zM559 365h1v22h-1zM560 372h1v25h-1zM561 379h1v27h-1zM562 387h1v27h-1zM563 397h1v24h-1zM564 406h1v19h-1zM565 414h1v16h-1zM566 420h1v14h-1zM567 425h1v13h-1zM568 429h1v13h-1zM569 434h1v9h-1zM570 438h1v7h-1zM571 441h1v6h-1zM572 443h1v4h-1zM573 444h1v3h-1zM574 443h1v4h-1zM575 441h1v6h-1zM576 438h1v7h-1zM577 434h1v9h-1zM578 429h1v13h-1zM579 425h1v13h-1zM580 420h1v14h-1zM581 414h1v16h-1zM582 406h1v19h-1zM583 398h1v23h-1zM584 392h1v22h-1zM585 386h1v20h-1zM586 377h1v21h-1zM587 367h1v25h-1zM588 356h1v30h-1zM589 346h1v31h-1zM590 335h1v32h-1zM591 325h1v31h-1zM592 316h1v30h-1zM593 310h1v25h-1zM594 304h1v21h-1zM595 298h1v18h-1zM596 292h1v18h-1zM597 287h1v17h-1zM598 282h1v16h-1zM599 278h1v15h-1zM600 273h1v14h-1zM601 270h1v13h-1zM602 267h1v11h-1zM603 264h1v10h-1zM604 261h1v9h-1zM605 260h1v7h-1zM606 258h1v6h-1zM607 256h1v6h-1zM608 256h1v4h-1zM609 256h1v3h-1zM610 256h1v4h-1zM611 256h1v6h-1zM612 258h1v7h-1zM613 260h1v9h-1zM614 261h1v13h-1zM615 265h1v13h-1zM616 269h1v14h-1zM617 273h1v16h-1zM618 278h1v19h-1zM619 282h1v22h-1zM620 288h1v22h-1zM621 296h1v20h-1zM622 304h1v19h-1zM623 310h1v20h-1zM624 316h1v21h-1zM625 323h1v23h-1zM626 330h1v26h-1zM627 337h1v28h-1zM628 346h1v26h-1zM629 356h1v23h-1zM630 365h1v22h-1zM631 372h1v25h-1zM632 379h1v27h-1zM633 387h1v27h-1zM634 397h1v24h-1zM635 406h1v19h-1zM636 414h1v16h-1zM637 420h1v14h-1zM638 425h1v13h-1zM639 429h1v13h-1zM640 434h1v9h-1zM641 438h1v7h-1zM642 441h1v6h-1zM643 443h1v4h-1zM644 444h1v3h-1zM645 443h1v4h-1zM646 441h1v6h-1zM647 438h1v7h-1zM648 434h1v9h-1zM649 428h1v14h-1zM650 422h1v16h-1zM651 416h1v18h-1zM652 410h1v18h-1zM653 404h1v18h-1zM654 398h1v18h-1zM655 392h1v18h-1zM656 386h1v18h-1zM657 377h1v21h-1zM658 367h1v25h-1zM659 356h1v30h-1zM660 346h1v31h-1zM661 335h1v32h-1zM662 325h1v31h-1zM663 316h1v30h-1zM664 310h1v25h-1zM665 304h1v21h-1zM666 298h1v18h-1zM667 292h1v18h-1zM668 287h1v17h-1zM669 282h1v16h-1zM670 278h1v15h-1zM671 273h1v14h-1zM672 270h1v13h-1zM673 267h1v11h-1zM674 264h1v10h-1zM675 261h1v9h-1zM676 260h1v7h-1zM677 258h1v6h-1zM678 256h1v6h-1zM679 256h1v4h-1zM680 256h1v3h-1zM681 256h1v4h-1zM682 256h1v6h-1zM683 258h1v7h-1zM684 260h1v9h-1zM685 261h1v13h-1zM686 265h1v13h-1zM687 269h1v14h-1zM688 273h1v14h-1zM689 278h1v15h-1zM690 282h1v16h-1zM691 287h1v18h-1zM692 292h1v23h-1zM693 298h1v25h-1zM694 305h1v25h-1zM695 315h1v22h-1zM696 323h1v23h-1zM697 330h1v26h-1zM698 337h1v30h-1zM699 346h1v31h-1zM700 356h1v30h-1zM701 367h1v25h-1zM702 377h1v21h-1zM703 386h1v18h-1zM704 392h1v18h-1zM705 398h1v18h-1zM706 404h1v18h-1zM707 410h1v18h-1zM708 416h1v18h-1zM709 422h1v16h-1zM710 428h1v14h-1zM711 434h1v9h-1zM712 438h1v7h-1zM713 441h1v6h-1zM714 443h1v4h-1zM715 444h1v3h-1zM716 443h1v4h-1zM717 441h1v6h-1zM718 438h1v7h-1zM719 434h1v9h-1zM720 428h1v14h-1zM721 422h1v16h-1zM722 416h1v18h-1zM723 410h1v18h-1zM724 404h1v18h-1zM725 398h1v18h-1zM726 392h1v18h-1zM727 386h1v18h-1zM728 377h1v21h-1zM729 367h1v25h-1zM730 356h1v30h-1zM731 346h1v31h-1zM732 335h1v32h-1zM733 325h1v31h-1zM734 315h1v31h-1zM735 305h1v30h-1zM736 298h1v27h-1zM737 294h1v21h-1zM738 290h1v15h-1zM739 286h1v13h-1zM740 282h1v13h-1zM741 278h1v13h-1zM742 273h1v14h-1zM743 270h1v13h-1zM744 267h1v11h-1zM745 264h1v10h-1zM746 261h1v9h-1zM747 260h1v7h-1zM748 258h1v6h-1zM749 256h1v6h-1zM750 256h1v4h-1zM751 256h1v3h-1zM752 256h1v4h-1zM753 256h1v6h-1zM754 258h1v7h-1zM755 260h1v9h-1zM756 261h1v13h-1zM757 265h1v13h-1zM758 269h1v14h-1zM759 273h1v16h-1zM760 278h1v19h-1zM761 282h1v22h-1zM762 288h1v22h-1zM763 296h1v20h-1zM764 304h1v21h-1zM765 310h1v25h-1zM766 316h1v28h-1zM767 325h1v26h-1zM768 335h1v23h-1zM769 344h1v23h-1zM770 351h1v26h-1zM771 358h1v28h-1zM772 367h1v25h-1zM773 377h1v21h-1zM774 386h1v20h-1zM775 392h1v22h-1zM776 398h1v23h-1zM777 406h1v19h-1zM778 414h1v16h-1zM779 420h1v14h-1zM780 425h1v13h-1zM781 429h1v13h-1zM782 434h1v11h-1zM783 438h1v9h-1zM784 441h1v6h-1zM785 444h1v3h-1zM786 444h1v3h-1zM787 441h1v6h-1zM788 439h1v8h-1zM789 436h1v9h-1zM790 433h1v9h-1zM791 428h1v11h-1zM792 422h1v14h-1zM793 416h1v17h-1zM794 410h1v18h-1zM795 404h1v18h-1zM796 397h1v19h-1zM797 387h1v23h-1zM798 379h1v25h-1zM799 372h1v25h-1zM800 365h1v22h-1zM801 356h1v23h-1zM802 346h1v26h-1zM803 330h1v35h-1zM804 316h1v40h-1zM805 310h1v36h-1zM806 304h1v26h-1zM807 298h1v18h-1zM808 294h1v16h-1zM809 290h1v14h-1zM810 286h1v13h-1zM811 281h1v14h-1zM812 275h1v16h-1zM813 270h1v17h-1zM814 268h1v13h-1zM815 266h1v9h-1zM816 263h1v8h-1zM817 261h1v7h-1zM818 260h1v6h-1zM819 258h1v6h-1zM820 256h1v6h-1zM821 256h1v4h-1zM822 256h1v3h-1zM823 256h1v4h-1zM824 256h1v6h-1zM825 258h1v7h-1zM826 260h1v9h-1zM827 261h1v13h-1zM828 265h1v13h-1zM829 269h1v14h-1zM830 273h1v16h-1zM831 278h1v19h-1zM832 282h1v22h-1zM833 288h1v22h-1zM834 296h1v20h-1zM835 304h1v19h-1zM836 310h1v20h-1zM837 316h1v21h-1zM838 323h1v23h-1zM839 330h1v26h-1zM840 337h1v30h-1zM841 346h1v31h-1zM842 356h1v30h-1zM843 367h1v25h-1zM844 377h1v21h-1zM845 386h1v20h-1zM846 392h1v22h-1zM847 398h1v23h-1zM848 406h1v19h-1zM849 414h1v16h-1zM850 420h1v14h-1zM851 425h1v13h-1zM852 429h1v13h-1zM853 434h1v11h-1zM854 438h1v9h-1zM855 441h1v6h-1zM856 444h1v3h-1zM857 444h1v3h-1zM858 441h1v6h-1zM859 439h1v8h-1zM860 436h1v9h-1zM861 433h1v9h-1zM862 428h1v11h-1zM863 422h1v14h-1zM864 416h1v17h-1zM865 410h1v18h-1zM866 404h1v18h-1zM867 397h1v19h-1zM868 387h1v23h-1zM869 379h1v25h-1zM870 372h1v25h-1zM871 365h1v22h-1zM872 357h1v22h-1zM873 351h1v21h-1zM874 351h1v14h-1zM875 351h1v6h-1z" fill="#800000" shape-rendering="crispEdges"/>
<text x="76.00 91.92 107.33 116.30 132.25" transform="translate(0 45) scale(1 1.08)" clip-path="url(#nf0)" font-style="italic" font-size="28" fill="#000" stroke="#000" stroke-width="0.25">10.24</text>
<text x="91.72 107.58 116.07 131.97" transform="translate(0 139) scale(1 1.08)" font-style="italic" font-size="28" fill="#000" stroke="#000" stroke-width="0.25">0.00</text>
<text transform="translate(0 232) scale(1 1.08)" clip-path="url(#nf2)" font-style="italic" font-size="28" fill="#000" stroke="#000" stroke-width="0.25"><tspan x="63.92" dy="1.8" font-size="35">-</tspan><tspan x="76.10 91.27 107.58 116.50 132.25" dy="-1.8">10.24</tspan></text>
<text x="76.00 92.22 107.68 116.90 132.55" transform="translate(0 267) scale(1 1.08)" clip-path="url(#nf3)" font-style="italic" font-size="28" fill="#000" stroke="#000" stroke-width="0.25">10.22</text>
<text x="91.72 107.58 116.07 131.97" transform="translate(0 360) scale(1 1.08)" font-style="italic" font-size="28" fill="#000" stroke="#000" stroke-width="0.25">0.00</text>
<text transform="translate(0 455) scale(1 1.08)" clip-path="url(#nf5)" font-style="italic" font-size="28" fill="#000" stroke="#000" stroke-width="0.25"><tspan x="63.92" dy="1.8" font-size="35">-</tspan><tspan x="76.10 91.27 107.58 116.75 132.35" dy="-1.8">10.22</tspan></text>
<text transform="translate(0 127) scale(1 1.0)" font-style="normal" font-size="29" fill="#000" stroke="#000" stroke-width="0.25"><tspan x="7.93" font-size="30.2" textLength="18.93" lengthAdjust="spacingAndGlyphs">V</tspan><tspan x="26.66 43.24 49.54">dif</tspan></text>
<text transform="translate(0 348) scale(1 1.0)" font-style="normal" font-size="29" fill="#800000" stroke="#800000" stroke-width="0.25"><tspan x="7.93" font-size="30.2" textLength="18.93" lengthAdjust="spacingAndGlyphs">V</tspan><tspan x="26.99 42.66 57.91">out</tspan></text>
<text x="151.02 165.63 175.22 190.82" transform="translate(0 493) scale(1 1.08)" font-style="italic" font-size="28" fill="#000" stroke="#000" stroke-width="0.25">0.00</text>
<text x="505.22 520.33 528.87 544.67 560.45" transform="translate(0 493) scale(1 1.08)" font-style="italic" font-size="28" fill="#000" stroke="#000" stroke-width="0.25">5.00m</text>
<text x="860.15 875.62 891.18 899.62 915.92 931.40" transform="translate(0 493) scale(1 1.08)" clip-path="url(#nf10)" font-style="italic" font-size="28" fill="#000" stroke="#000" stroke-width="0.25">10.00m</text>
<text transform="translate(0 533) scale(1 1.0)" font-style="normal" font-size="29" fill="#000" stroke="#000" stroke-width="0.25"><tspan x="509.34" font-size="30.2" textLength="17.93" lengthAdjust="spacingAndGlyphs">T</tspan><tspan x="525.09 532.51 554.36 569.47 578.76 589.57 604.49">ime (s)</tspan></text>
</svg>
</body></html>
